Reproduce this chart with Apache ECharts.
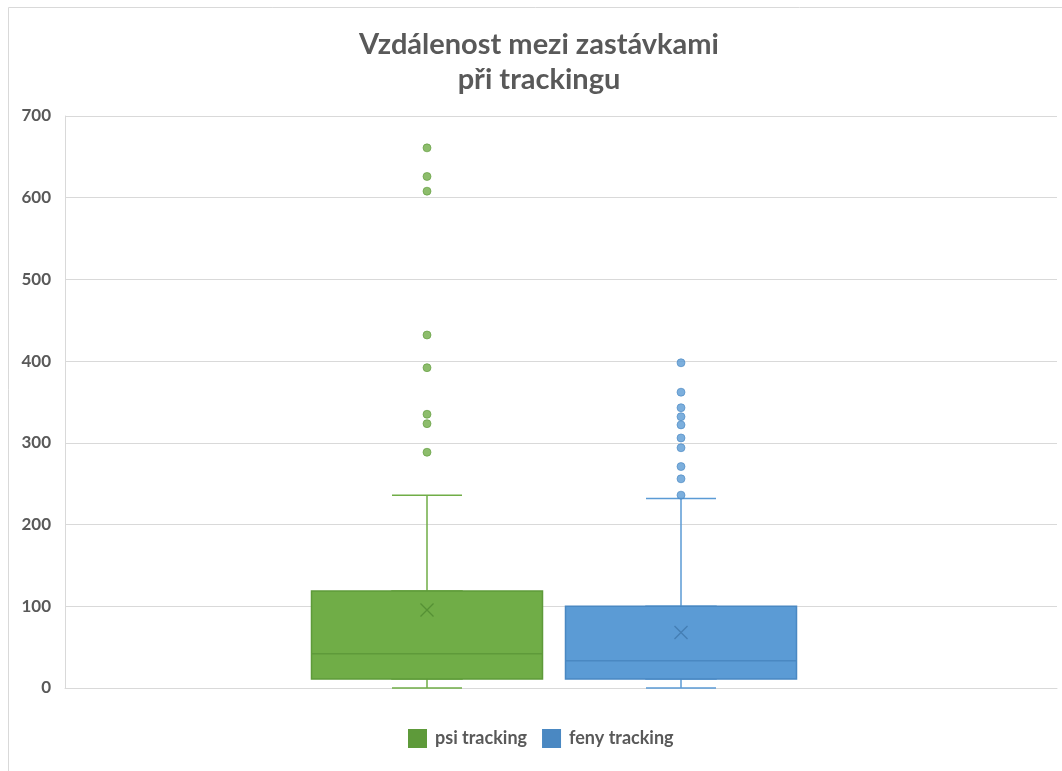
<!DOCTYPE html>
<html>
<head>
<meta charset="utf-8">
<script src="https://cdn.jsdelivr.net/npm/echarts@6/dist/echarts.min.js"></script>
<style>
  html, body { margin: 0; padding: 0; background: #fff; }
  #chart { width: 1062px; height: 771px; }
</style>
</head>
<body>
<div id="chart"></div>
<script>
// box values: [min, Q1, median, Q3, max]
var seriesNames = ['psi tracking', 'feny tracking'];
var psiBox = [0, 11, 42, 118.7, 236];
var fenyBox = [0, 11, 33.5, 100, 232];
var psiMean = 95.5;
var fenyMean = 68;
var psiOutliers = [661, 626, 608, 432, 392, 335, 323.5, 288.5];
var fenyOutliers = [398, 362, 343, 332, 322, 306, 294, 271, 256, 236];
var yTicks = [0, 700, 100];

var green = '#70AD47', greenDark = '#5E9A3A';
var blue = '#5B9BD5', blueDark = '#4A88C2';
var font = 'Lato, "Open Sans", sans-serif';

var el = document.getElementById('chart');
var myChart = echarts.init(el);

function hiddenY(grid) {
  return {
    type: 'value', gridIndex: grid, min: yTicks[0], max: yTicks[1], interval: yTicks[2],
    show: false
  };
}
function hiddenX(grid) {
  return {
    type: 'category', gridIndex: grid, data: [''], show: false
  };
}
// box only (whiskers collapsed onto the box edges)
function boxOnly(b) {
  return [b[1], b[1], b[2], b[3], b[3]];
}

var xMark = 'path://M0,0L10,10M10,0L0,10';

// grid 1,3 -> psi (whiskers, box), grid 2,4 -> feny
var psiGrid = { left: 277, width: 300, top: 116, bottom: 83 };
var fenyGrid = { left: 531, width: 300, top: 116, bottom: 83 };

var option = {
  animation: false,
  title: {
    text: 'Vzdálenost mezi zastávkami\npři trackingu',
    left: 534,
    top: 22,
    textAlign: 'center',
    textStyle: {
      fontFamily: font, fontWeight: 'bold', fontSize: 29, color: '#595959', lineHeight: 35
    }
  },
  graphic: [{
    type: 'rect',
    shape: { x: 8.5, y: 7.5, width: 1100, height: 800 },
    style: { fill: 'none', stroke: '#d9d9d9', lineWidth: 1 },
    silent: true
  }],
  legend: {
    data: seriesNames,
    bottom: 23,
    left: 408,
    padding: 0,
    icon: 'rect',
    itemWidth: 17,
    itemHeight: 17,
    itemGap: 15,
    textStyle: {
      fontFamily: font, fontWeight: 'bold', fontSize: 18, color: '#595959',
      padding: [0, 0, 0, 4]
    }
  },
  grid: [
    { left: 65, right: 5, top: 116, bottom: 83 },
    psiGrid, fenyGrid, psiGrid, fenyGrid
  ],
  xAxis: [
    {
      type: 'category', gridIndex: 0, data: [''],
      axisLine: { lineStyle: { color: '#d9d9d9', width: 1 } },
      axisTick: { show: false },
      axisLabel: { show: false }
    },
    hiddenX(1), hiddenX(2), hiddenX(3), hiddenX(4)
  ],
  yAxis: [
    {
      type: 'value', gridIndex: 0, min: yTicks[0], max: yTicks[1], interval: yTicks[2],
      axisLine: { show: true, lineStyle: { color: '#d9d9d9', width: 1 } },
      axisTick: { show: false },
      splitLine: { lineStyle: { color: '#d9d9d9', width: 1 } },
      axisLabel: {
        margin: 14, fontFamily: font, fontWeight: 'bold', fontSize: 17, color: '#595959'
      }
    },
    hiddenY(1), hiddenY(2), hiddenY(3), hiddenY(4)
  ],
  series: [
    {
      name: 'psi whiskers',
      type: 'boxplot',
      xAxisIndex: 1, yAxisIndex: 1,
      boxWidth: [70, 70],
      itemStyle: { color: green, borderColor: green, borderWidth: 1.5 },
      data: [psiBox]
    },
    {
      name: 'feny whiskers',
      type: 'boxplot',
      xAxisIndex: 2, yAxisIndex: 2,
      boxWidth: [70, 70],
      itemStyle: { color: blue, borderColor: blue, borderWidth: 1.5 },
      data: [fenyBox]
    },
    {
      name: seriesNames[0],
      type: 'boxplot',
      xAxisIndex: 3, yAxisIndex: 3,
      boxWidth: [231, 231],
      itemStyle: { color: green, borderColor: greenDark, borderWidth: 1.5 },
      data: [boxOnly(psiBox)]
    },
    {
      name: seriesNames[1],
      type: 'boxplot',
      xAxisIndex: 4, yAxisIndex: 4,
      boxWidth: [231, 231],
      itemStyle: { color: blue, borderColor: blueDark, borderWidth: 1.5 },
      data: [boxOnly(fenyBox)]
    },
    {
      type: 'scatter', xAxisIndex: 1, yAxisIndex: 1,
      symbolSize: 8,
      itemStyle: { color: green, borderColor: greenDark, borderWidth: 0.8 },
      data: psiOutliers.map(function (v) { return [0, v]; })
    },
    {
      type: 'scatter', xAxisIndex: 2, yAxisIndex: 2,
      symbolSize: 8,
      itemStyle: { color: blue, borderColor: blueDark, borderWidth: 0.8 },
      data: fenyOutliers.map(function (v) { return [0, v]; })
    },
    {
      type: 'scatter', xAxisIndex: 3, yAxisIndex: 3,
      symbol: xMark, symbolSize: 13,
      itemStyle: { color: 'none', borderColor: '#4F8A30', borderWidth: 1.3 },
      data: [[0, psiMean]]
    },
    {
      type: 'scatter', xAxisIndex: 4, yAxisIndex: 4,
      symbol: xMark, symbolSize: 13,
      itemStyle: { color: 'none', borderColor: '#3F77AB', borderWidth: 1.3 },
      data: [[0, fenyMean]]
    }
  ]
};

myChart.setOption(option);
window.addEventListener('resize', function () {
  myChart.resize();
});
</script>
</body>
</html>
